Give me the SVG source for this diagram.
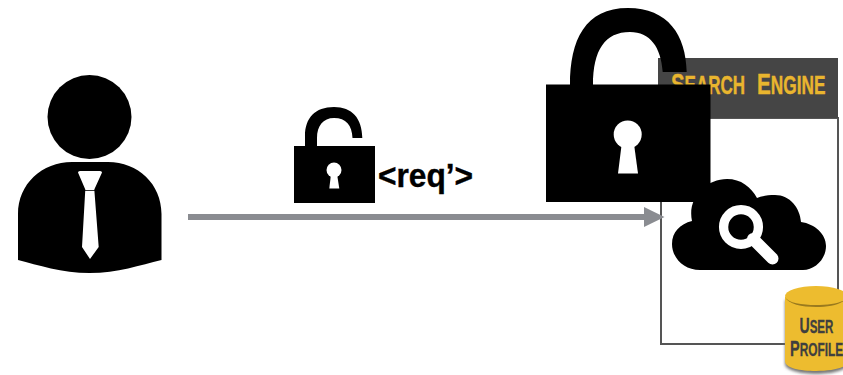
<svg xmlns="http://www.w3.org/2000/svg" width="843" height="375" viewBox="0 0 843 375">
<defs>
<filter id="blur" x="-10%" y="-10%" width="120%" height="120%"><feGaussianBlur stdDeviation="1.5"/></filter>
</defs>
<style>
.k{fill:#000}
.w{fill:#fff}
.sc{font-family:"Liberation Sans",Arial,sans-serif;font-weight:700}
.title{fill:#E9B52E;stroke:#E9B52E;stroke-width:.4;font-size:30px}
.title tspan{font-size:25px}
.db{fill:#3f3f3f;stroke:#3f3f3f;stroke-width:.3;font-size:22px}
.db tspan{font-size:18px}
</style>
<rect width="843" height="375" fill="#fff"/>
<g id="search-engine">
<rect x="661" y="118" width="177" height="226" fill="#fff" stroke="#555" stroke-width="2"/>
<rect x="658" y="58" width="180" height="60" fill="#454545"/>
<text class="sc title" transform="translate(671 94) scale(.68 1)">S<tspan>EARCH</tspan></text>
<text class="sc title" transform="translate(757 94) scale(.69 1)">E<tspan>NGINE</tspan></text>
</g>
<g id="cloud-search">
<path class="k" d="M700 270C684 270 672 258 672 244C672 232 680 224 692 221C687 198 706 179 727 179C741 179 751 187 757 198C762 196 768 195 775 195C790 195 800 208 801 222C815 224 826 234 826 246C826 259 815 270 803 270Z"/>
<circle cx="741" cy="227" r="17.400" fill="none" stroke="#fff" stroke-width="9.300"/>
<path d="M753 239L772.500 258.500" fill="none" stroke="#fff" stroke-width="12" stroke-linecap="round"/>
</g>
<g id="user-profile">
<path d="M785 300V364C785 370 800 374 816 374C832 374 848 370 848 364V300Z" fill="#777" filter="url(#blur)"/>
<path d="M785 297V361C785 368 800 371 816 371C832 371 848 368 848 361V297Z" fill="#EDBC2F"/>
<ellipse cx="816" cy="296" rx="31" ry="10" fill="#EDBC2F"/>
<path d="M785 297C788 304 802 307 816 307C830 307 844 304 847 297C844 303 830 305 816 305C802 305 788 303 785 297Z" fill="#9a7a1e"/>
<text class="sc db" transform="translate(799.500 333) scale(.64 1)">U<tspan>SER</tspan></text>
<text class="sc db" transform="translate(790 355.500) scale(.66 1)">P<tspan>ROFILE</tspan></text>
</g>
<g id="connectors">
<path d="M188 217H646" fill="none" stroke="#8A8C91" stroke-width="6"/>
<path d="M644 207L664.500 217L644 227Z" fill="#8A8C91"/>
</g>
<g id="user">
<circle class="k" cx="89.500" cy="117" r="42"/>
<path class="k" d="M18 260V214C18 184 42 162 72 162H108C138 162 161.500 184 161.500 214V260C140 265 118 273 89.500 273C62 273 38 265 18 260Z"/>
<path class="w" d="M78 172.500Q78 171 80 171H100Q102 171 102 172.500L94.300 189.500L98.700 247L90 259L82 247L85.300 189.500Z"/>
<path d="M85 190.500H95" stroke="#000" stroke-width=".8"/>
</g>
<g id="small-lock">
<path class="k" d="M305 146V136C305 118 315 107 334 107C352 107 362 118 362.300 138H352.500C352 125 346 118 334 118C323 118 317 126 317 138V146Z"/>
<rect class="k" x="294" y="146" width="81" height="57"/>
<circle class="w" cx="334" cy="170" r="7.500"/>
<path class="w" d="M331 174H337L339.300 188.500H329.300Z"/>
<text class="sc" transform="translate(378 186.500) scale(.96 1)" font-size="33" fill="#000" stroke="#000" stroke-width=".4">&lt;req’&gt;</text>
</g>
<g id="big-lock">
<path class="k" d="M570 85C570 40 585 8 628 8C668 8 686 35 686.700 72H662.700C661 47 650 32 630 32C605 32 593 50 593 85Z"/>
<rect class="k" x="546" y="84.500" width="164.500" height="117.500"/>
<circle class="w" cx="627.700" cy="134.500" r="14"/>
<path class="w" d="M621.700 144H634L638 173.500H618Z"/>
</g>
</svg>
